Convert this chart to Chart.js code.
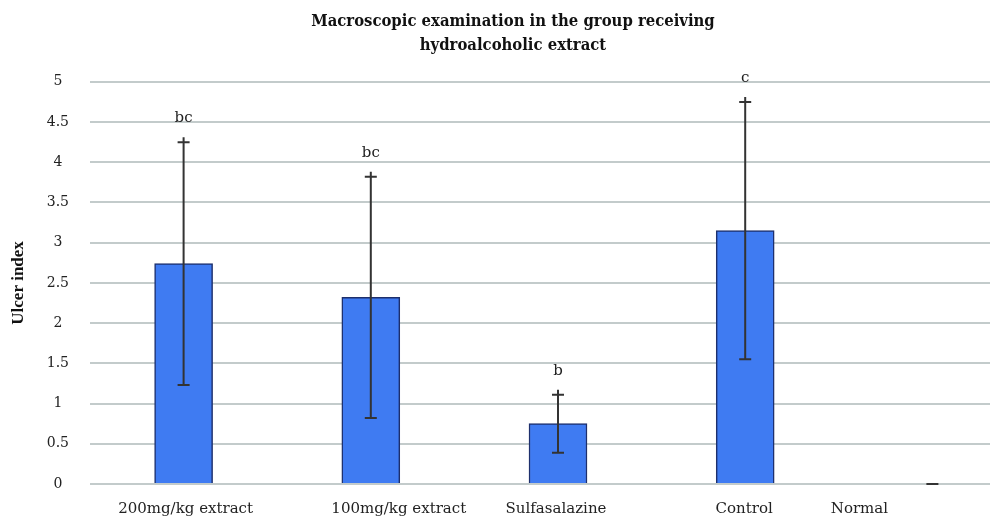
<!DOCTYPE html>
<html>
<head>
<meta charset="utf-8">
<script src="https://cdn.jsdelivr.net/npm/chart.js@4.4.1/dist/chart.umd.min.js"></script>
<style>
    html, body { margin: 0; padding: 0; background: #fff; overflow: hidden; }
    #wrap { width: 990px; height: 519px; overflow: hidden; }
</style>
</head>
<body>
<div id="wrap">
    <canvas id="chart" width="1030" height="519"></canvas>
</div>
<script>
const categories = ['200mg/kg extract', '100mg/kg extract', 'Sulfasalazine', 'Control', 'Normal'];
const ulcerIndex = [2.74, 2.32, 0.75, 3.15, 0];
const ulcerSD = [1.51, 1.50, 0.36, 1.60, 0];
const groupLetters = ['bc', 'bc', 'b', 'c', ''];

const SERIF = '"DejaVu Serif", "Liberation Serif", serif';

// error bars, significance letters and the category labels underneath
const annotatePlugin = {
    id: 'annotate',
    afterDatasetsDraw(chart, args, options) {
        const { ctx, scales } = chart;
        const meta = chart.getDatasetMeta(0);

        ctx.save();
        ctx.strokeStyle = options.errorColor;
        ctx.lineWidth = 2;
        meta.data.forEach((bar, i) => {
            const x = bar.x;
            const top = scales.y.getPixelForValue(ulcerIndex[i] + ulcerSD[i]);
            const bottom = scales.y.getPixelForValue(ulcerIndex[i] - ulcerSD[i]);
            ctx.beginPath();
            ctx.moveTo(x, top - (ulcerSD[i] > 0 ? 5 : 0));
            ctx.lineTo(x, bottom);
            ctx.moveTo(x - 6, top);
            ctx.lineTo(x + 6, top);
            ctx.moveTo(x - 6, bottom);
            ctx.lineTo(x + 6, bottom);
            ctx.stroke();

            if (groupLetters[i]) {
                ctx.fillStyle = '#222';
                ctx.font = '15px ' + SERIF;
                ctx.textAlign = 'center';
                ctx.textBaseline = 'alphabetic';
                ctx.fillText(groupLetters[i], x, top - 20);
            }
        });

        ctx.fillStyle = '#222';
        ctx.font = '15px ' + SERIF;
        ctx.textAlign = 'center';
        ctx.textBaseline = 'middle';
        categories.forEach((label, i) => {
            const x = scales.x.getPixelForValue(i) + (options.labelShift[i] || 0);
            ctx.fillText(label, x, scales.x.top + 25);
        });
        ctx.restore();
    },
};

new Chart(document.getElementById('chart').getContext('2d'), {
    type: 'bar',
    data: {
        labels: categories,
        datasets: [{
            data: ulcerIndex,
            backgroundColor: '#3f7bf2',
            borderColor: '#1d2f6c',
            borderWidth: 1.5,
            barThickness: 58,
        }],
    },
    options: {
        responsive: false,
        animation: false,
        devicePixelRatio: 1,
        layout: { padding: { left: 0, right: 4, top: 0, bottom: 0 } },
        plugins: {
            legend: { display: false },
            tooltip: { enabled: false },
            title: {
                display: true,
                text: ['Macroscopic examination in the group receiving', 'hydroalcoholic extract'],
                color: '#111',
                font: { family: '"DejaVu Serif Condensed", "Liberation Serif", serif', size: 16.5, weight: 'bold', lineHeight: 1.45 },
                padding: { top: 10, bottom: 24 },
            },
            annotate: {
                errorColor: '#333',
                labelShift: [2, 28, -2, -1, -73],
            },
        },
        scales: {
            x: {
                grid: { display: false },
                border: { display: false },
                ticks: { display: false },
                afterFit(scale) { scale.height = 35; },
            },
            y: {
                min: 0,
                max: 5,
                border: { display: false },
                grid: { color: '#c3cbcb', lineWidth: 2, drawTicks: false },
                ticks: {
                    stepSize: 0.5,
                    color: '#222',
                    font: { family: SERIF, size: 14 },
                    crossAlign: 'center',
                    padding: 21,
                    callback: (value) => String(value),
                },
                title: {
                    display: true,
                    text: 'Ulcer index',
                    color: '#111',
                    font: { family: '"Liberation Serif", serif', size: 17, weight: 'bold' },
                    padding: { top: 8, bottom: 0 },
                },
                afterFit(scale) { scale.width = 90; },
            },
        },
    },
    plugins: [annotatePlugin],
});
</script>
</body>
</html>
